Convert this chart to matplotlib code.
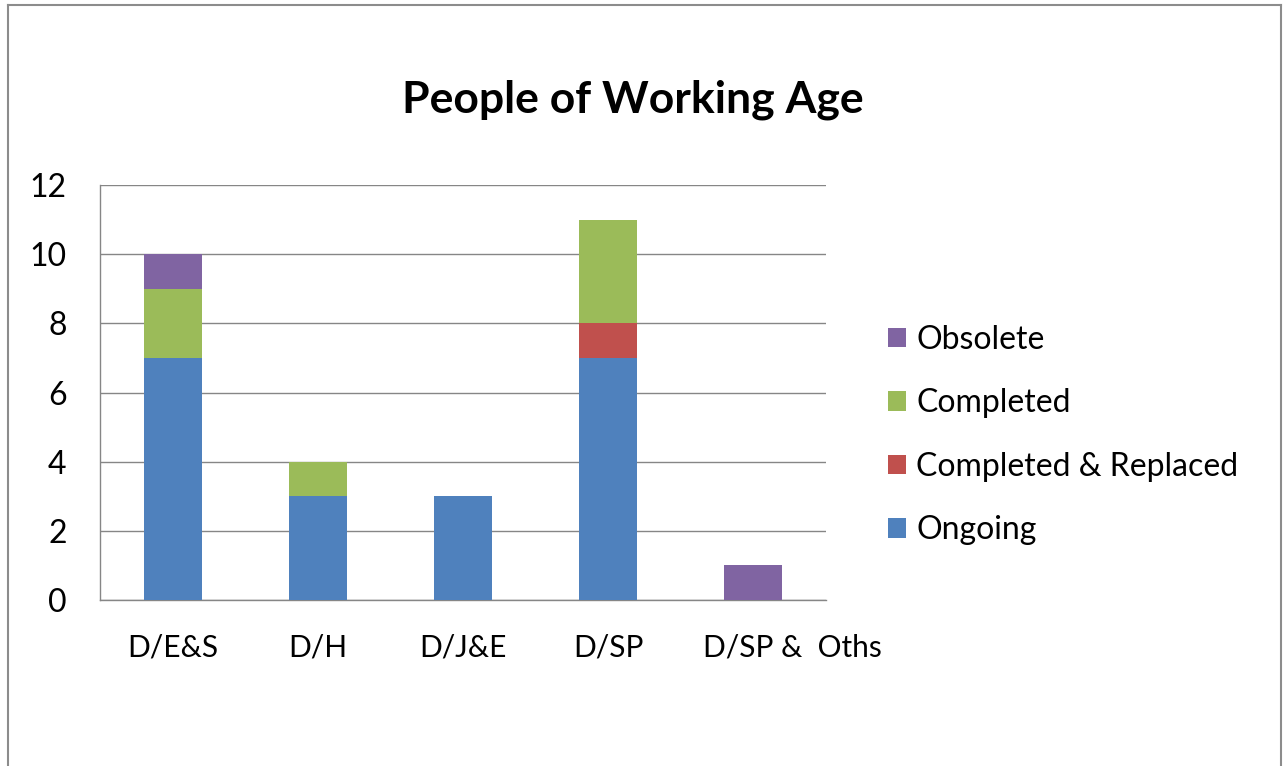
import matplotlib.pyplot as plt
import matplotlib.transforms as mtransforms
from matplotlib.lines import Line2D

# data
categorias = ["D/E&S", "D/H", "D/J&E", "D/SP", "D/SP &  Oths"]
ongoing = [7, 3, 3, 7, 0]
completed_replaced = [0, 0, 0, 1, 0]
completed = [2, 1, 0, 3, 0]
obsolete = [1, 0, 0, 0, 1]

colores = {
    "Ongoing": "#4F81BD",
    "Completed & Replaced": "#C0504D",
    "Completed": "#9BBB59",
    "Obsolete": "#8064A2",
}

plt.rcParams["font.family"] = ["Lato", "DejaVu Sans"]

fig = plt.figure(figsize=(12.84, 7.66), dpi=100)
ax = fig.add_axes([100 / 1284, 1 - 600 / 766, 726 / 1284, 415 / 766])

x = list(range(len(categorias)))
ancho = 0.4
base = [0] * len(x)
series = [
    ("Ongoing", ongoing),
    ("Completed & Replaced", completed_replaced),
    ("Completed", completed),
    ("Obsolete", obsolete),
]
for nombre, valores in series:
    ax.bar(x, valores, ancho, bottom=base, color=colores[nombre], label=nombre, zorder=3)
    base = [b + v for b, v in zip(base, valores)]

ax.set_xlim(-0.5, len(x) - 0.5)
ax.set_ylim(0, 12)
ax.set_yticks(range(0, 13, 2))
ax.set_xticks(x)
ax.set_xticklabels(categorias)
ax.tick_params(axis="both", length=0)
ax.tick_params(axis="y", pad=24, labelsize=23)
ax.tick_params(axis="x", pad=24, labelsize=21.5)
ax.grid(axis="y", color="#868686", linewidth=1, zorder=0)
for lado in ["top", "right"]:
    ax.spines[lado].set_visible(False)
for lado in ["left", "bottom"]:
    ax.spines[lado].set_color("#868686")
    ax.spines[lado].set_linewidth(1)

# the last label sits a bit right of its bar in the original
etiqueta = ax.get_xticklabels()[-1]
etiqueta.set_transform(etiqueta.get_transform()
                       + mtransforms.ScaledTranslation(0.39, 0, fig.dpi_scale_trans))

fig.text(633 / 1284, 1 - 100 / 766, "People of Working Age", ha="center", va="center",
         fontsize=32, fontweight="bold")

h, l = ax.get_legend_handles_labels()
ax.legend(h[::-1], l[::-1], loc="center left", bbox_to_anchor=(888 / 1284, 1 - 435 / 766),
          bbox_transform=fig.transFigure, frameon=False, fontsize=23,
          handlelength=0.57, handleheight=0.57, handletextpad=0.31, labelspacing=1.05,
          borderaxespad=0, borderpad=0)

# outer frame (bottom edge cut off in the original)
for xs, ys in [([8, 8], [766, 5]), ([8, 1281], [5, 5]), ([1281, 1281], [5, 766])]:
    fig.add_artist(Line2D([v / 1284 for v in xs], [1 - v / 766 for v in ys],
                          color="#8c8c8c", linewidth=1.5, transform=fig.transFigure))

fig.savefig("out.png", dpi=100, facecolor="white")
plt.close(fig)
